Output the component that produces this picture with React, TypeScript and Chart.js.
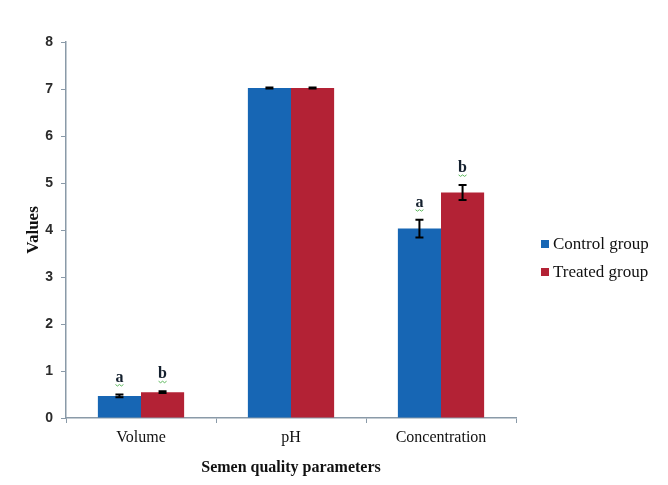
import React, { useEffect, useRef } from "react";
import { Chart, registerables } from "chart.js";

Chart.register(...registerables);

const categories = ["Volume", "pH", "Concentration"];
const controlValues = [0.47, 7.02, 4.03];
const treatedValues = [0.55, 7.02, 4.8];
const controlErrors = [0.03, 0.01, 0.19];
const treatedErrors = [0.02, 0.01, 0.16];
const controlLetters = ["a", "", "a"];
const treatedLetters = ["b", "", "b"];
const seriesNames = ["Control group", "Treated group"];
const seriesColors = ["#1766b4", "#b32235"];

const serif = "'Liberation Serif', 'Times New Roman', serif";

const errorBarPlugin = {
  id: "errorBars",
  afterDatasetsDraw(chart: any) {
    const ctx = chart.ctx;
    const y = chart.scales.y;
    const errs = [controlErrors, treatedErrors];
    const letters = [controlLetters, treatedLetters];
    ctx.save();
    chart.data.datasets.forEach((ds: any, di: number) => {
      const meta = chart.getDatasetMeta(di);
      meta.data.forEach((bar: any, i: number) => {
        const v = ds.data[i];
        const e = errs[di][i];
        const x = bar.x;
        const yTop = y.getPixelForValue(v + e);
        const yBot = y.getPixelForValue(v - e);
        ctx.strokeStyle = "#000";
        ctx.lineWidth = 2;
        ctx.beginPath();
        ctx.moveTo(x, yTop);
        ctx.lineTo(x, yBot);
        ctx.moveTo(x - 4, yTop);
        ctx.lineTo(x + 4, yTop);
        ctx.moveTo(x - 4, yBot);
        ctx.lineTo(x + 4, yBot);
        ctx.stroke();
        const letter = letters[di][i];
        if (letter) {
          ctx.fillStyle = "#14202e";
          ctx.font = `bold 16px ${serif}`;
          ctx.textAlign = "center";
          ctx.textBaseline = "alphabetic";
          const ly = yTop - 13;
          ctx.fillText(letter, x, ly);
          // green spell-check squiggle
          ctx.strokeStyle = "#5cb85c";
          ctx.lineWidth = 1;
          ctx.beginPath();
          for (let k = -4; k <= 4; k += 2) {
            const px = x + k;
            const py = ly + 3 + (k % 4 === 0 ? 0 : 1.5);
            if (k === -4) ctx.moveTo(px, py);
            else ctx.lineTo(px, py);
          }
          ctx.stroke();
        }
      });
    });
    ctx.restore();
  },
};

const legendPlugin = {
  id: "customLegend",
  afterDraw(chart: any) {
    const ctx = chart.ctx;
    const area = chart.chartArea;
    const x0 = area.right + 25;
    const yc = (area.top + area.bottom) / 2;
    const ys = [yc + 14, yc + 42];
    ctx.save();
    seriesNames.forEach((name, i) => {
      const yy = ys[i];
      ctx.fillStyle = seriesColors[i];
      ctx.fillRect(x0, yy - 4, 8, 8);
      ctx.fillStyle = "#111";
      ctx.font = `17px ${serif}`;
      ctx.textAlign = "left";
      ctx.textBaseline = "middle";
      ctx.fillText(name, x0 + 12, yy + 1);
    });
    ctx.restore();
  },
};

export default function App() {
  const ref = useRef<HTMLCanvasElement | null>(null);
  useEffect(() => {
    if (!ref.current) return;
    const chart = new Chart(ref.current, {
      type: "bar",
      data: {
        labels: categories,
        datasets: [
          {
            label: seriesNames[0],
            data: controlValues,
            backgroundColor: seriesColors[0],
            barPercentage: 1,
            categoryPercentage: 0.575,
          },
          {
            label: seriesNames[1],
            data: treatedValues,
            backgroundColor: seriesColors[1],
            barPercentage: 1,
            categoryPercentage: 0.575,
          },
        ],
      },
      options: {
        animation: false,
        responsive: false,
        maintainAspectRatio: false,
        layout: { padding: { left: 0, right: 152, top: 42, bottom: 0 } },
        plugins: {
          legend: { display: false },
          tooltip: { enabled: false },
        },
        scales: {
          x: {
            afterFit: (s: any) => {
              s.height = 67;
            },
            grid: {
              display: true,
              drawOnChartArea: false,
              drawTicks: true,
              tickLength: 5,
              color: "#8a9aa8",
              offset: true,
            },
            border: { color: "#8a9aa8", width: 1.5 },
            ticks: {
              color: "#111",
              font: { family: serif, size: 16 },
              padding: 5,
            },
            title: {
              display: true,
              text: "Semen quality parameters",
              color: "#111",
              font: { family: serif, size: 16, weight: "bold" },
              padding: { top: 0, bottom: 8 },
            },
          },
          y: {
            min: 0,
            max: 8,
            afterFit: (s: any) => {
              s.width = 66;
            },
            grid: {
              display: true,
              drawOnChartArea: false,
              drawTicks: true,
              tickLength: 5,
              color: "#8a9aa8",
            },
            border: { color: "#8a9aa8", width: 1.5 },
            ticks: {
              stepSize: 1,
              color: "#2b2b2b",
              font: { family: "'Liberation Sans', Arial, sans-serif", size: 14, weight: "bold" },
              padding: 8,
            },
            title: {
              display: true,
              text: "Values",
              color: "#111",
              font: { family: serif, size: 17, weight: "bold" },
              padding: { top: 23, bottom: 0 },
            },
          },
        },
      },
      plugins: [errorBarPlugin, legendPlugin],
    } as any);
    return () => chart.destroy();
  }, []);
  return (
    <div style={{ position: "fixed", left: 0, top: 0, width: 668, height: 485, background: "#fff" }}>
      <canvas ref={ref} width={668} height={485} style={{ width: 668, height: 485 }} />
    </div>
  );
}
